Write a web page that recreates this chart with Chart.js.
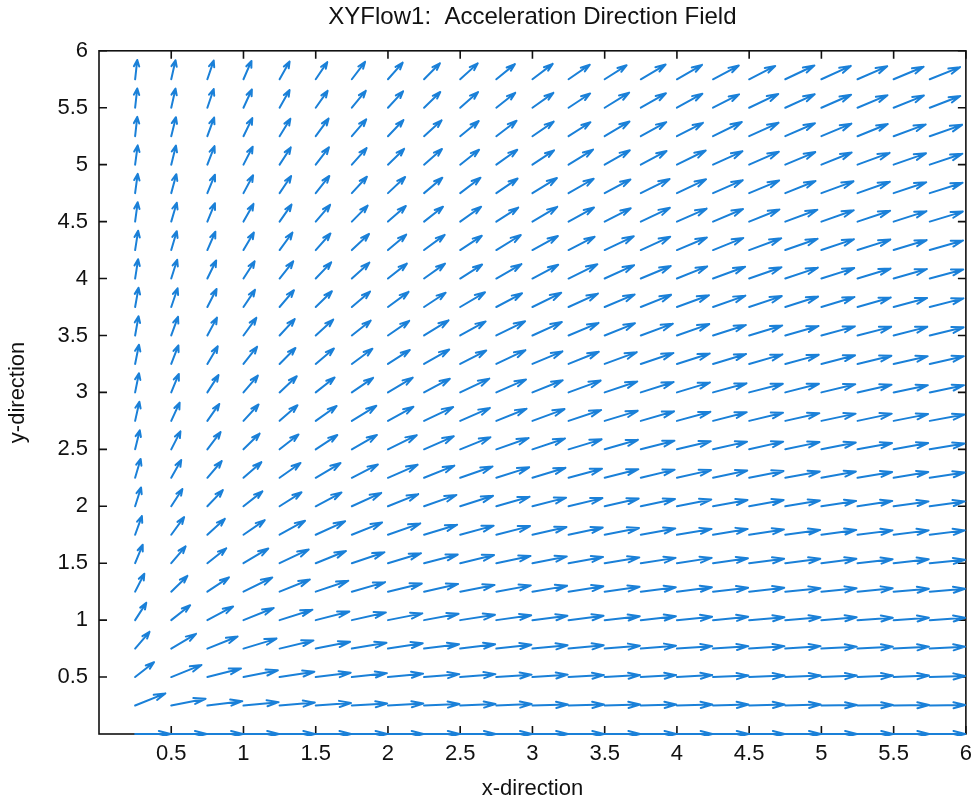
<!DOCTYPE html>
<html>
<head>
<meta charset="utf-8">
<title>XYFlow1: Acceleration Direction Field</title>
<script src="https://cdn.jsdelivr.net/npm/chart.js@4.4.0/dist/chart.umd.min.js"></script>
<style>
  html, body { margin: 0; padding: 0; background: #ffffff; }
  #wrap { width: 979px; height: 808px; }
</style>
</head>
<body>
<div id="wrap"><canvas id="quiverChart" width="979" height="808"></canvas></div>
<script>
// grid of arrow tails (x columns, y rows)
const xGrid = [0.25, 0.5, 0.75, 1, 1.25, 1.5, 1.75, 2, 2.25, 2.5, 2.75, 3,
  3.25, 3.5, 3.75, 4, 4.25, 4.5, 4.75, 5, 5.25, 5.5, 5.75];
const yGrid = [0, 0.25, 0.5, 0.75, 1, 1.25, 1.5, 1.75, 2, 2.25, 2.5, 2.75, 3,
  3.25, 3.5, 3.75, 4, 4.25, 4.5, 4.75, 5, 5.25, 5.5, 5.75];

const tickValues = [0.5, 1, 1.5, 2, 2.5, 3, 3.5, 4, 4.5, 5, 5.5, 6];
const tickLabels = ["0.5", "1", "1.5", "2", "2.5", "3", "3.5", "4", "4.5", "5", "5.5", "6"];

// arrow direction in degrees (data space), one row per yGrid value
const angleDeg = [
  [0, 0, 0, 0, 0, 0, 0, 0, 0, 0, 0, 0, 0, 0, 0, 0, 0, 0, 0, 0, 0, 0, 0],
  [27, 14, 9, 7, 6, 5, 4, 4, 3, 3, 3, 2, 2, 2, 2, 2, 2, 2, 2, 1, 1, 1, 1],
  [45, 27, 18, 14, 11, 9, 8, 7, 6, 6, 5, 5, 4, 4, 4, 4, 3, 3, 3, 3, 3, 3, 2],
  [56, 37, 27, 21, 17, 14, 12, 11, 9, 9, 8, 7, 7, 6, 6, 5, 5, 5, 5, 4, 4, 4, 4],
  [63, 45, 34, 27, 22, 18, 16, 14, 13, 11, 10, 9, 9, 8, 8, 7, 7, 6, 6, 6, 5, 5, 5],
  [68, 51, 40, 32, 27, 23, 20, 17, 16, 14, 13, 12, 11, 10, 9, 9, 8, 8, 7, 7, 7, 6, 6],
  [72, 56, 45, 37, 31, 27, 23, 21, 18, 17, 15, 14, 13, 12, 11, 11, 10, 9, 9, 9, 8, 8, 7],
  [74, 60, 49, 41, 35, 30, 27, 24, 21, 19, 18, 16, 15, 14, 13, 12, 12, 11, 10, 10, 9, 9, 9],
  [76, 63, 53, 45, 39, 34, 30, 27, 24, 22, 20, 18, 17, 16, 15, 14, 13, 13, 12, 11, 11, 10, 10],
  [77, 66, 56, 48, 42, 37, 33, 29, 27, 24, 22, 21, 19, 18, 17, 16, 15, 14, 13, 13, 12, 12, 11],
  [79, 68, 59, 51, 45, 40, 36, 32, 29, 27, 24, 23, 21, 20, 18, 17, 16, 16, 15, 14, 13, 13, 12],
  [80, 70, 61, 54, 48, 42, 38, 35, 31, 29, 27, 25, 23, 21, 20, 19, 18, 17, 16, 15, 15, 14, 13],
  [81, 72, 63, 56, 50, 45, 41, 37, 34, 31, 29, 27, 25, 23, 22, 21, 19, 18, 18, 17, 16, 15, 15],
  [81, 73, 65, 58, 52, 47, 43, 39, 36, 33, 31, 28, 27, 25, 23, 22, 21, 20, 19, 18, 17, 16, 16],
  [82, 74, 67, 60, 54, 49, 45, 41, 38, 35, 32, 30, 28, 27, 25, 24, 22, 21, 20, 19, 18, 18, 17],
  [82, 75, 68, 62, 56, 51, 47, 43, 40, 37, 34, 32, 30, 28, 27, 25, 24, 23, 22, 21, 20, 19, 18],
  [83, 76, 69, 63, 58, 53, 49, 45, 42, 39, 36, 34, 32, 30, 28, 27, 25, 24, 23, 22, 21, 20, 19],
  [83, 77, 71, 65, 60, 55, 50, 47, 43, 40, 38, 35, 33, 31, 30, 28, 27, 25, 24, 23, 22, 21, 20],
  [84, 77, 72, 66, 61, 56, 52, 48, 45, 42, 39, 37, 35, 33, 31, 29, 28, 27, 25, 24, 23, 22, 21],
  [84, 78, 72, 67, 62, 58, 54, 50, 47, 44, 41, 38, 36, 34, 32, 31, 29, 28, 27, 25, 24, 23, 22],
  [84, 79, 73, 68, 63, 59, 55, 51, 48, 45, 42, 40, 38, 36, 34, 32, 30, 29, 28, 27, 25, 24, 23],
  [85, 79, 74, 69, 64, 60, 56, 53, 49, 46, 44, 41, 39, 37, 35, 33, 32, 30, 29, 28, 27, 25, 24],
  [85, 80, 75, 70, 66, 61, 57, 54, 51, 48, 45, 42, 40, 38, 36, 35, 33, 31, 30, 29, 28, 27, 26],
  [85, 80, 75, 71, 66, 62, 59, 55, 52, 49, 46, 44, 41, 39, 37, 36, 34, 33, 31, 30, 29, 28, 27]
];

const lengthBandMaxAngle = [25, 32, 38, 44, 50, 60, 90];
const lengthBandValue = [0.245, 0.235, 0.215, 0.195, 0.185, 0.178, 0.17];

const ARROW_COLOR = "#1a80d8";

function arrowLength(deg) {
  for (let k = 0; k < lengthBandMaxAngle.length; k++) {
    if (deg <= lengthBandMaxAngle[k]) return lengthBandValue[k];
  }
  return lengthBandValue[lengthBandValue.length - 1];
}

function buildPoints() {
  const pts = [];
  yGrid.forEach((yv, j) => {
    xGrid.forEach((xv, i) => {
      const deg = angleDeg[j][i];
      const len = arrowLength(deg);
      const rad = deg * Math.PI / 180;
      pts.push({ x: xv, y: yv, u: len * Math.cos(rad), v: len * Math.sin(rad) });
    });
  });
  return pts;
}

function tickLabel(value) {
  const k = tickValues.indexOf(value);
  return k >= 0 ? tickLabels[k] : "";
}

// box with inward tick marks, matlab style
const framePlugin = {
  id: "frame",
  beforeDatasetsDraw(chart) {
    const { ctx, chartArea: a, scales } = chart;
    const tl = 8;
    ctx.save();
    ctx.strokeStyle = "#111111";
    ctx.lineWidth = 1.6;
    ctx.strokeRect(a.left, a.top, a.right - a.left, a.bottom - a.top);
    ctx.beginPath();
    tickValues.forEach(v => {
      const px = scales.x.getPixelForValue(v);
      ctx.moveTo(px, a.bottom); ctx.lineTo(px, a.bottom - tl);
      ctx.moveTo(px, a.top); ctx.lineTo(px, a.top + tl);
      const py = scales.y.getPixelForValue(v);
      ctx.moveTo(a.left, py); ctx.lineTo(a.left + tl, py);
      ctx.moveTo(a.right, py); ctx.lineTo(a.right - tl, py);
    });
    ctx.stroke();
    ctx.restore();
  }
};

// draws each point as an arrow, head built in data units like quiver
const quiverPlugin = {
  id: "quiver",
  afterDatasetsDraw(chart) {
    const { ctx, chartArea: a, scales: { x, y } } = chart;
    const alpha = 0.33, beta = 0.33;
    ctx.save();
    ctx.beginPath();
    ctx.rect(a.left - 2, a.top - 2, a.right - a.left + 4, a.bottom - a.top + 4);
    ctx.clip();
    ctx.strokeStyle = ARROW_COLOR;
    ctx.lineWidth = 2;
    ctx.lineCap = "round";
    ctx.lineJoin = "round";
    chart.data.datasets[0].data.forEach(p => {
      const tipX = p.x + p.u, tipY = p.y + p.v;
      const h1x = tipX - alpha * (p.u + beta * p.v);
      const h1y = tipY - alpha * (p.v - beta * p.u);
      const h2x = tipX - alpha * (p.u - beta * p.v);
      const h2y = tipY - alpha * (p.v + beta * p.u);
      ctx.beginPath();
      ctx.moveTo(x.getPixelForValue(p.x), y.getPixelForValue(p.y));
      ctx.lineTo(x.getPixelForValue(tipX), y.getPixelForValue(tipY));
      ctx.moveTo(x.getPixelForValue(h1x), y.getPixelForValue(h1y));
      ctx.lineTo(x.getPixelForValue(tipX), y.getPixelForValue(tipY));
      ctx.lineTo(x.getPixelForValue(h2x), y.getPixelForValue(h2y));
      ctx.stroke();
    });
    ctx.restore();
  }
};

Chart.defaults.font.family = "'Liberation Sans', Arial, sans-serif";
Chart.defaults.color = "#111111";

const ctx = document.getElementById("quiverChart").getContext("2d");
new Chart(ctx, {
  type: "scatter",
  data: {
    datasets: [{
      label: "acceleration",
      data: buildPoints(),
      pointRadius: 0,
      pointHoverRadius: 0,
      showLine: false
    }]
  },
  options: {
    responsive: false,
    animation: false,
    devicePixelRatio: 1,
    layout: { padding: { left: 0, right: 13, top: 0, bottom: 0 } },
    plugins: {
      legend: { display: false },
      tooltip: { enabled: false },
      title: {
        display: true,
        fullSize: false,
        text: "XYFlow1:  Acceleration Direction Field",
        font: { size: 24, weight: "normal" },
        color: "#111111",
        padding: { top: 3, bottom: 19 }
      }
    },
    scales: {
      x: {
        type: "linear",
        min: 0,
        max: 6,
        afterBuildTicks: scale => { scale.ticks = tickValues.map(v => ({ value: v })); },
        afterFit: scale => { scale.height = 74; },
        grid: { display: false, drawTicks: false },
        border: { display: false },
        ticks: { font: { size: 22 }, padding: 7, maxRotation: 0, autoSkip: false, callback: tickLabel },
        title: { display: true, text: "x-direction", font: { size: 22 }, padding: { top: 0, bottom: 6 } }
      },
      y: {
        type: "linear",
        min: 0,
        max: 6,
        afterBuildTicks: scale => { scale.ticks = tickValues.map(v => ({ value: v })); },
        afterFit: scale => { scale.width = 99; },
        grid: { display: false, drawTicks: false },
        border: { display: false },
        ticks: { font: { size: 22 }, padding: 11, autoSkip: false, callback: tickLabel },
        title: { display: true, text: "y-direction", font: { size: 22 }, padding: { top: 5, bottom: 0 } }
      }
    }
  },
  plugins: [framePlugin, quiverPlugin]
});
</script>
</body>
</html>
